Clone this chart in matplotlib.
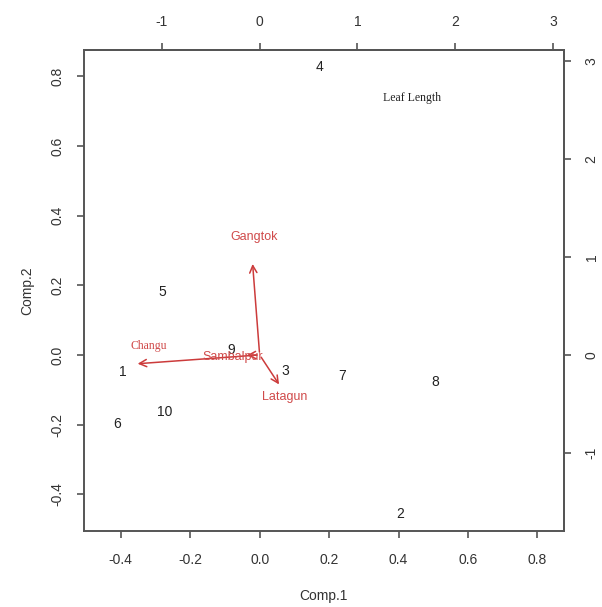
import matplotlib.pyplot as plt
import numpy as np

# scores (Comp.1, Comp.2) of the 10 observations
obs_labels = ['1', '2', '3', '4', '5', '6', '7', '8', '9', '10']
comp1 = [-0.393, 0.405, 0.075, 0.172, -0.279, -0.410, 0.239, 0.506, -0.081, -0.273]
comp2 = [-0.048, -0.458, -0.045, 0.827, 0.182, -0.199, -0.061, -0.078, 0.014, -0.163]

# loadings (drawn on the secondary scale)
var_names = ['Gangtok', 'Changu', 'Latagun', 'Sambalpur']
load1 = [-0.074, -1.276, 0.214, -0.16]
load2 = [0.956, -0.092, -0.325, -0.005]
lab1 = [-0.058, -1.13, 0.255, -0.272]
lab2 = [1.206, 0.095, -0.427, -0.017]
var_fonts = ['Liberation Sans', 'Liberation Serif', 'Liberation Sans', 'Liberation Sans']

bottom_ticks = [-0.4, -0.2, 0.0, 0.2, 0.4, 0.6, 0.8]
left_ticks = [-0.4, -0.2, 0.0, 0.2, 0.4, 0.6, 0.8]
sec_ticks = [-1, 0, 1, 2, 3]

lims = (-0.506, 0.876)
ratio = 3.55

plt.rcParams['font.family'] = 'Liberation Sans'
grey = '#555555'
txt = '#333333'
red = '#cc3b3b'

fig = plt.figure(figsize=(6.02, 6.07), dpi=100)
ax = fig.add_axes([0.1395, 0.1252, 0.797, 0.7924])
ax.set_xlim(lims)
ax.set_ylim(lims)

for s in ax.spines.values():
    s.set_color(grey)
    s.set_linewidth(1.4)

# observations as text
for lab, x, y in zip(obs_labels, comp1, comp2):
    ax.text(x, y, lab, ha='center', va='center', fontsize=10, color='#222222')

# variable arrows
for name, x, y, lx, ly, fnt in zip(var_names, load1, load2, lab1, lab2, var_fonts):
    ax.annotate('', xy=(x / ratio, y / ratio), xytext=(0, 0),
                arrowprops=dict(arrowstyle='->', color=red, lw=1.1, mutation_scale=13))
    ax.text(lx / ratio, ly / ratio, name, ha='center', va='center',
            fontsize=9 if fnt == 'Liberation Sans' else 8.5, color='#d04a4a', family=fnt)

ax.text(0.44, 0.737, 'Leaf Length', ha='center', va='center', fontsize=8.5,
        family='Liberation Serif', color='#222222')

ax.set_xticks(bottom_ticks)
ax.set_xticklabels([f'{t:.1f}' for t in bottom_ticks])
ax.set_yticks(left_ticks)
ax.set_yticklabels([f'{t:.1f}' for t in left_ticks], rotation=90, va='center')
ax.tick_params(direction='out', length=5, width=1.2, color=grey, labelcolor=txt,
               labelsize=10)
ax.tick_params(axis='x', pad=11)
ax.tick_params(axis='y', pad=9)
ax.set_xlabel('Comp.1', fontsize=10, color=txt, labelpad=16)
ax.set_ylabel('Comp.2', fontsize=10, color=txt, labelpad=12)

top = ax.secondary_xaxis('top', functions=(lambda v: v * ratio, lambda v: v / ratio))
top.set_xticks(sec_ticks)
top.set_xticklabels([str(t) for t in sec_ticks])
top.tick_params(direction='out', length=5, width=1.2, color=grey, labelcolor=txt,
                labelsize=10, pad=10)
top.spines['top'].set_color(grey)
top.spines['top'].set_linewidth(1.4)

right = ax.secondary_yaxis('right', functions=(lambda v: v * ratio, lambda v: v / ratio))
right.set_yticks(sec_ticks)
right.set_yticklabels([str(t) for t in sec_ticks], rotation=90, va='center')
right.tick_params(direction='out', length=5, width=1.2, color=grey, labelcolor=txt,
                  labelsize=10, pad=10)
right.spines['right'].set_color(grey)
right.spines['right'].set_linewidth(1.4)

fig.savefig('out.png', dpi=100)
